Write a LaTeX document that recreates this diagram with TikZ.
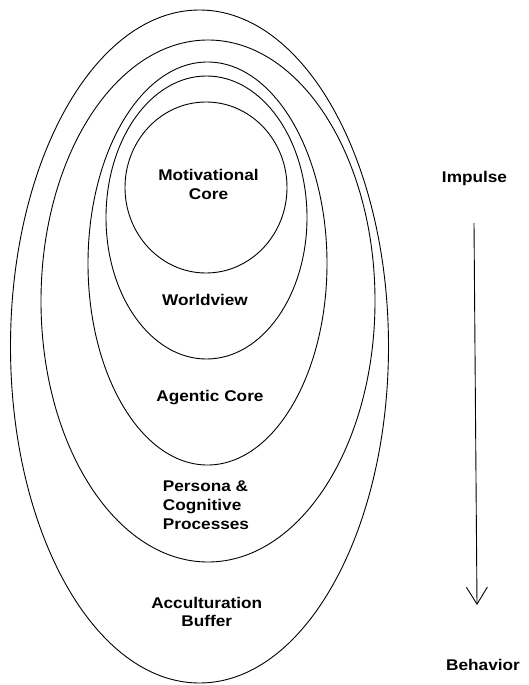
\documentclass[tikz,border=0pt]{standalone}
\usepackage{fontspec}
\setmainfont{Liberation Sans}[FakeStretch=1.11]
\usetikzlibrary{arrows.meta}
\begin{document}
\begin{tikzpicture}[x=1pt,y=1pt,
  shell/.style={draw=black,line width=0.9pt},
  lbl/.style={font=\fontsize{15.5}{18.7}\selectfont\bfseries, inner sep=0pt, anchor=base}]
\useasboundingbox (0,0) rectangle (528,-685);
% nested shells
\draw[shell] (199.5,-346.5) ellipse [x radius=189pt, y radius=336.5pt];
\draw[shell] (208,-301) ellipse [x radius=167pt, y radius=261pt];
\draw[shell] (207.5,-263.5) ellipse [x radius=119.5pt, y radius=201.5pt];
\draw[shell] (206.5,-217.5) ellipse [x radius=100.5pt, y radius=141.5pt];
\draw[shell] (206,-187.5) ellipse [x radius=81pt, y radius=85.5pt];
% labels (base anchor = baseline of the last line)
\node[lbl, align=center] (mot) at (208.5,-199) {Motivational\\Core};
\node[lbl] (wv) at (205,-305) {Worldview};
\node[lbl] (ag) at (210,-401) {Agentic Core};
\node[lbl, align=left] (pc) at (206,-529) {Persona \&\\Cognitive\\Processes};
\node[lbl, align=center] (ac) at (206.7,-626.7) {Acculturation\\Buffer};
\node[lbl] (imp) at (474.5,-182.7) {Impulse};
\node[lbl] (beh) at (483,-670) {Behavior};
% arrow
\coordinate (a1) at (474,-223);
\coordinate (a2) at (477,-605);
\draw[line width=0.9pt, -{Straight Barb[length=17pt,width=21pt]}] (a1) -- (a2);
\end{tikzpicture}
\end{document}
